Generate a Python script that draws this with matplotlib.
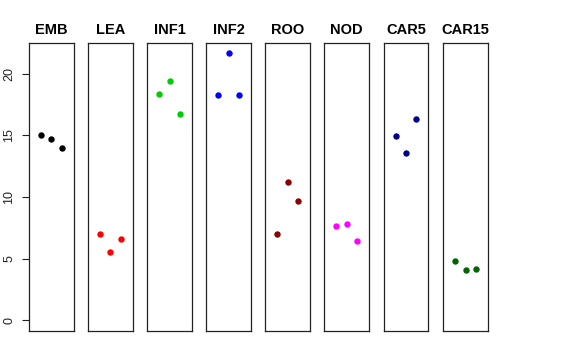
import matplotlib
matplotlib.use("Agg")
import matplotlib.pyplot as plt

categories = ["EMB", "LEA", "INF1", "INF2", "ROO", "NOD", "CAR5", "CAR15"]
values = {
    "EMB":   [15.07, 14.69, 13.96],
    "LEA":   [7.02, 5.58, 6.56],
    "INF1":  [18.35, 19.43, 16.75],
    "INF2":  [18.24, 21.65, 18.24],
    "ROO":   [7.02, 11.24, 9.67],
    "NOD":   [7.64, 7.80, 6.40],
    "CAR5":  [14.93, 13.55, 16.29],
    "CAR15": [4.85, 4.12, 4.15],
}
colors = ["#000000", "#FF0000", "#00CD00", "#0000FF", "#8B0000", "#FF00FF", "#00008B", "#006400"]
yticks = [0, 5, 10, 15, 20]

plt.rcParams['font.family'] = ['Liberation Sans', 'DejaVu Sans']
W, H = 576, 360
fig = plt.figure(figsize=(W / 100, H / 100), dpi=100)

lefts = [29, 88, 147.3, 206.3, 265.3, 324.3, 383.7, 443.3]
pw = 44.5
top, bottom = 42.7, 331
ymax = max(max(v) for v in values.values())
ext = 0.04 * ymax
for i, (cat, col) in enumerate(zip(categories, colors)):
    ax = fig.add_axes([lefts[i] / W, 1 - bottom / H, pw / W, (bottom - top) / H])
    xs = [1, 2, 3]
    ax.plot(xs, values[cat], 'o', color=col, markersize=4.6, markeredgewidth=0)
    ax.set_xlim(-0.16, 4.16)
    ax.set_ylim(-ext, ymax + ext)
    ax.set_xticks([])
    for s in ax.spines.values():
        s.set_linewidth(0.9)
        s.set_color('#222222')
    ax.set_title(cat, fontsize=10.5, fontweight='bold', pad=6)
    if i == 0:
        ax.set_yticks(yticks)
        ax.set_yticklabels([str(t) for t in yticks], fontsize=9)
        ax.tick_params(axis='y', length=5, width=0.8, pad=5, colors='#222222',
                       labelrotation=90)
        for lab in ax.get_yticklabels():
            lab.set_verticalalignment('center')
    else:
        ax.set_yticks([])

fig.savefig("out.png", dpi=100)
